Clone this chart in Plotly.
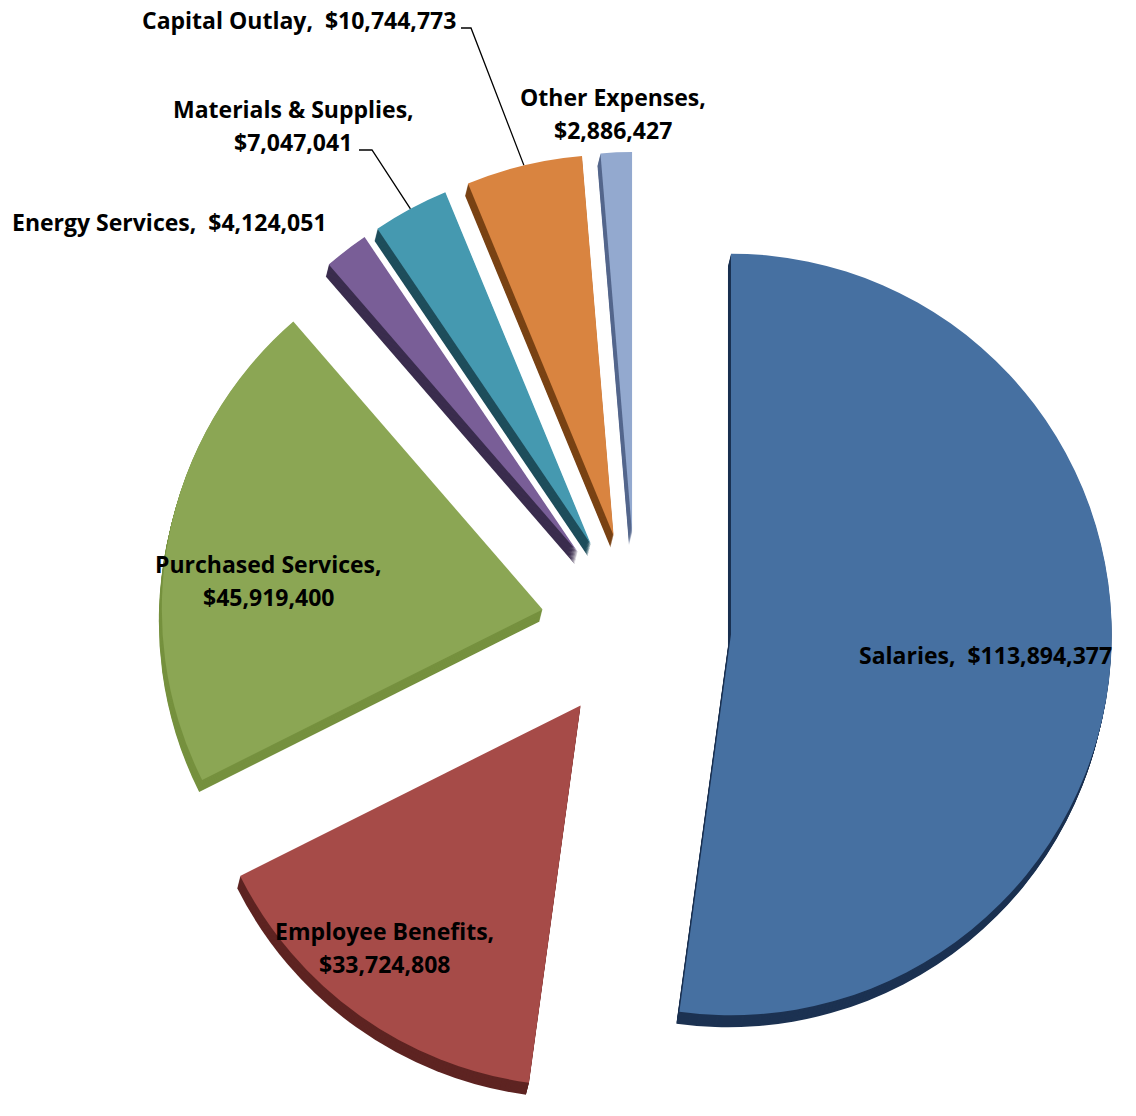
import math
import plotly.graph_objects as go

# Operating expenditures by object
categories = ["Salaries", "Employee Benefits", "Purchased Services", "Energy Services",
              "Materials & Supplies", "Capital Outlay", "Other Expenses"]
amounts = [113894377, 33724808, 45919400, 4124051, 7047041, 10744773, 2886427]

# Label layout: line break style per category
two_line = [False, True, True, False, True, False, True]

face_colors = ["#4670A1", "#A64B48", "#8BA654", "#795E97", "#4599B0", "#D98440", "#93A9CF"]
side_colors = ["#1C3252", "#5E2422", "#76913F", "#3B2D4E", "#1F4E5C", "#7A4315", "#55678C"]

W, H = 1136, 1116
PULL = 0.25
CX, CY = 636, 628          # pixel centre of the top face
REACH = 476                # radius * (1 + pull)
R = REACH / (1 + PULL)
DEPTH = 12                 # thickness of the extruded side, px
LINE_GAP = 33              # px between the two lines of a label
FONT = dict(family="'Open Sans', sans-serif", size=23, color="black", weight="bold")


def pie_domain(cx, cy):
    return dict(x=[(cx - REACH) / W, (cx + REACH) / W],
                y=[max(0.0, 1 - (cy + REACH) / H), min(1.0, 1 - (cy - REACH) / H)])


def pie_layer(colors, cx, cy):
    return go.Pie(
        labels=categories, values=amounts, sort=False, direction="clockwise",
        rotation=0, pull=[PULL] * len(amounts), marker=dict(colors=colors, line=dict(width=0)),
        textinfo="none", hoverinfo="skip", showlegend=False, domain=pie_domain(cx, cy),
    )


fig = go.Figure()

# side walls: stacked copies of the pie shifted downwards
for k in range(DEPTH, 0, -1):
    fig.add_trace(pie_layer(side_colors, CX - 0.25 * k, CY + k))

# top face
fig.add_trace(pie_layer(face_colors, CX, CY))

total = sum(amounts)


def slice_point(i, frac):
    """Pixel point on slice i's bisector, frac of the radius out from its exploded apex."""
    start = sum(amounts[:i]) / total * 360.0
    mid = math.radians(start + amounts[i] / total * 180.0)
    ux, uy = math.sin(mid), -math.cos(mid)
    dist = PULL * R + frac * R
    return CX + dist * ux, CY + dist * uy


def label_lines(i):
    name, value = f"{categories[i]},", f"${amounts[i]:,}"
    return [name, value] if two_line[i] else [f"{name}\u00a0 {value}"]


# label centres (px)
label_xy = {
    "Salaries": (985, 655),
    "Employee Benefits": (384, 947),
    "Purchased Services": (268, 580),
    "Energy Services": (169, 222),
    "Materials & Supplies": (293, 125),
    "Capital Outlay": (299, 20),
    "Other Expenses": (613, 113),
}

annotations = []
for i, name in enumerate(categories):
    x, y = label_xy[name]
    lines = label_lines(i)
    y0 = y - LINE_GAP * (len(lines) - 1) / 2
    for j, line in enumerate(lines):
        annotations.append(dict(x=x, y=y0 + j * LINE_GAP, xref="x", yref="y", text=line,
                                showarrow=False, font=FONT,
                                xanchor="center", yanchor="middle"))

# leader lines for the two labels set away from their slices
leader_starts = {
    "Capital Outlay": [(461, 28), (471, 28)],
    "Materials & Supplies": [(359, 150), (372, 150)],
}
for name, pts in leader_starts.items():
    ex, ey = slice_point(categories.index(name), 1.0)
    xs = [p[0] for p in pts] + [ex]
    ys = [p[1] for p in pts] + [ey]
    fig.add_trace(go.Scatter(x=xs, y=ys, mode="lines", line=dict(color="black", width=1.3),
                             hoverinfo="skip", showlegend=False))

fig.update_layout(
    width=W, height=H,
    margin=dict(l=0, r=0, t=0, b=0),
    paper_bgcolor="white", plot_bgcolor="rgba(0,0,0,0)",
    xaxis=dict(range=[0, W], visible=False, fixedrange=True),
    yaxis=dict(range=[H, 0], visible=False, fixedrange=True),
    annotations=annotations,
)

fig.write_html("out.html")
